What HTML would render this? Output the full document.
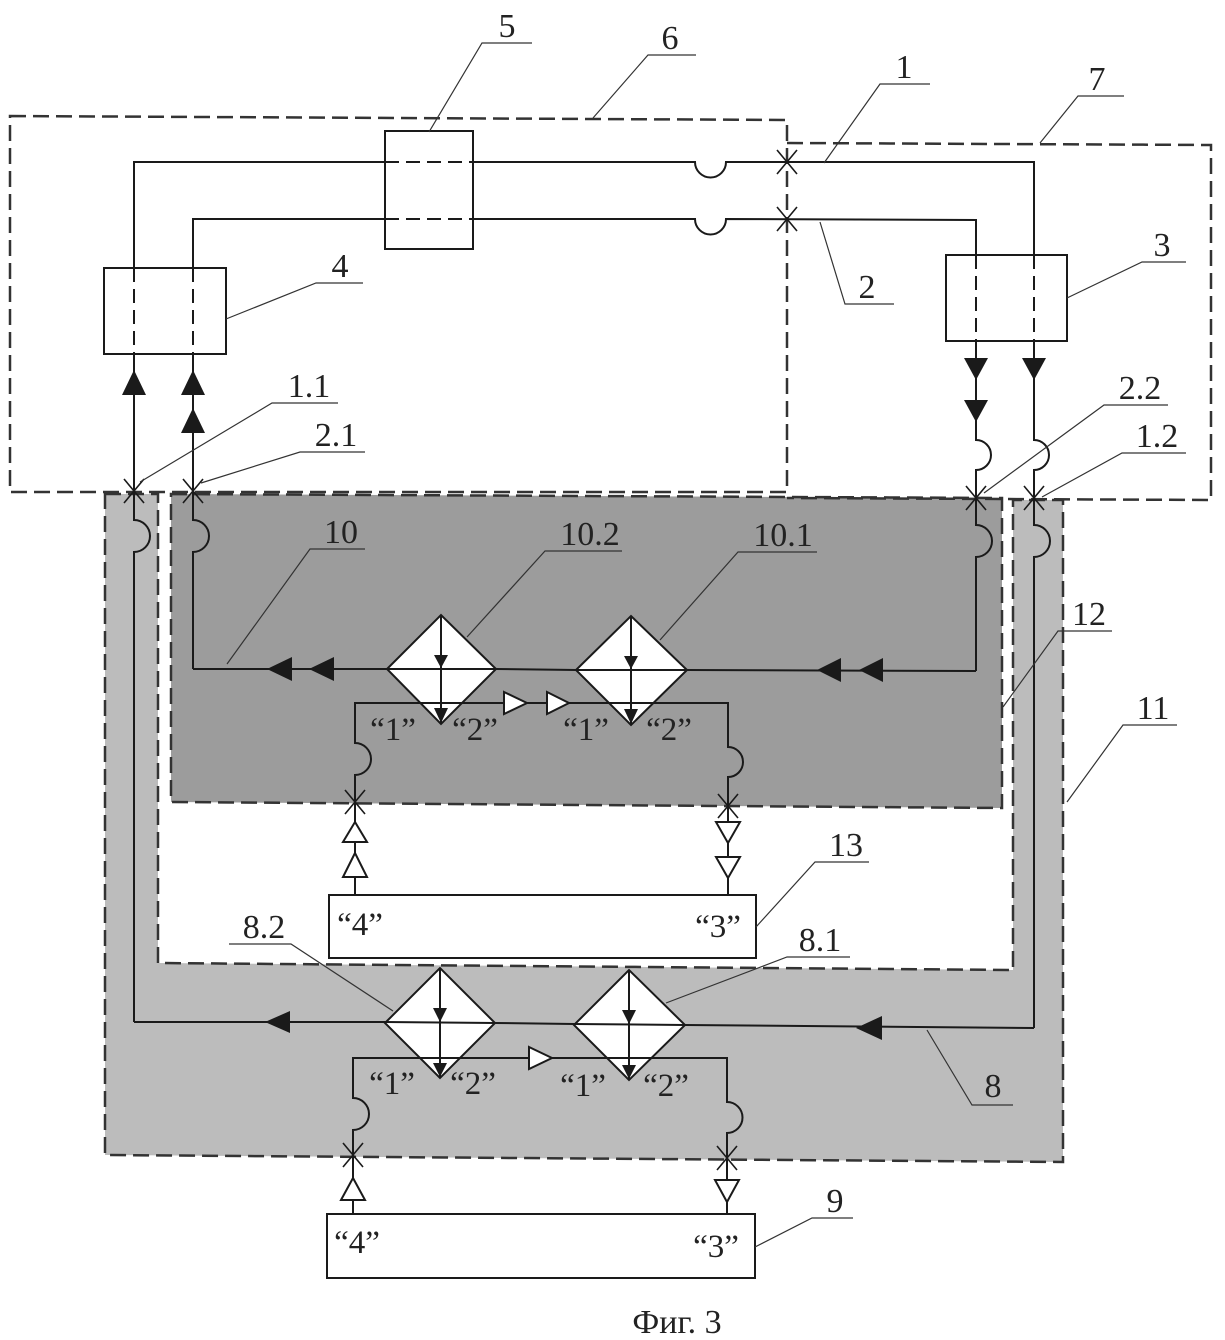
<!DOCTYPE html>
<html><head><meta charset="utf-8">
<style>html,body{margin:0;padding:0;background:#fff;}svg{display:block}
text{font-family:"Liberation Serif",serif;fill:#222;}
</style>
</head><body>
<svg width="1225" height="1340" viewBox="0 0 1225 1340" xmlns="http://www.w3.org/2000/svg">
<rect x="0" y="0" width="1225" height="1340" fill="#fff"/>
<!-- zone fills -->
<path d="M105,494 L158,494 L158,963 L1013,970 L1013,500 L1063,500 L1063,1162 L105,1155 Z" fill="#bcbcbc"/>
<path d="M171,494 L1002,498 L1002,808 L171,802 Z" fill="#9c9c9c"/>
<!-- dashed borders -->
<g fill="none" stroke="#333" stroke-width="2.5" stroke-dasharray="16 7">
 <path d="M105,494 L158,494 L158,963 L1013,970 L1013,500 L1063,500 L1063,1162 L105,1155 Z"/>
 <path d="M171,494 L1002,498 L1002,808 L171,802 Z"/>
 <path d="M10,116 L787,120 L787,492 L10,492 Z"/>
 <path d="M787,143 L1211,145 L1211,500 L787,498"/>
</g>
<!-- diamonds -->
<g fill="#fff" stroke="#1a1a1a" stroke-width="2">
 <polygon points="387,669 441,615 496,669 441,724"/>
 <polygon points="576,670 631,616 687,670 631,725"/>
 <polygon points="385,1023 440,968 495,1023 440,1078"/>
 <polygon points="574,1025 629,970 685,1025 629,1080"/>
</g>
<!-- connection lines -->
<g fill="none" stroke="#1a1a1a" stroke-width="2">
 <path d="M134,1022 L134,552 A16,16 0 0 0 134,520 L134,162 L695,162 A15.5,15.5 0 0 0 726,162 L1034,162 L1034,440 A15,15 0 0 1 1034,470 L1034,525 A16,16 0 0 1 1034,557 L1034,1028"/>
 <path d="M134,1022 L385,1022 L495,1023 L574,1024 L685,1025 L1034,1028"/>
 <path d="M193,669 L193,552 A16,16 0 0 0 193,520 L193,219 L695,219 A15.5,15.5 0 0 0 726,219 L976,220 L976,440 A15,15 0 0 1 976,470 L976,525 A16,16 0 0 1 976,557 L976,671"/>
 <path d="M193,669 L387,669 L496,669 L576,670 L687,670 L976,671"/>
 <path d="M355,895 L355,775 A16,16 0 0 0 355,743 L355,703 L728,703 L728,747 A15,15 0 0 1 728,777 L728,897"/>
 <path d="M353,1213 L353,1130 A16,16 0 0 0 353,1098 L353,1058 L727,1058 L727,1102 A15.5,15.5 0 0 1 727,1133 L727,1217"/>
 <path d="M441,615 L441,724 M631,616 L631,725 M440,968 L440,1078 M629,970 L629,1080"/>
</g>
<!-- diamond inner arrows -->
<g fill="#1a1a1a">
 <polygon points="434,655 448,655 441,668"/>
 <polygon points="434,708 448,708 441,723"/>
 <polygon points="624,656 638,656 631,669"/>
 <polygon points="624,709 638,709 631,724"/>
 <polygon points="433,1008 447,1008 440,1022"/>
 <polygon points="433,1063 447,1063 440,1077"/>
 <polygon points="622,1010 636,1010 629,1024"/>
 <polygon points="622,1065 636,1065 629,1079"/>
</g>
<!-- boxes -->
<g fill="#fff" stroke="#1a1a1a" stroke-width="2">
 <rect x="104" y="268" width="122" height="86"/>
 <rect x="385" y="131" width="88" height="118"/>
 <rect x="946" y="255" width="121" height="86"/>
 <rect x="329" y="895" width="427" height="63"/>
 <rect x="327" y="1214" width="428" height="64"/>
</g>
<g fill="none" stroke="#1a1a1a" stroke-width="2" stroke-dasharray="14 7">
 <path d="M134,268 L134,354 M193,268 L193,354"/>
 <path d="M385,162 L473,162 M385,219 L473,219"/>
 <path d="M976,255 L976,341 M1034,255 L1034,341"/>
</g>
<!-- filled arrows -->
<g fill="#1a1a1a">
 <polygon points="134,370 122,395 146,395"/>
 <polygon points="193,370 181,395 205,395"/>
 <polygon points="193,408 181,433 205,433"/>
 <polygon points="976,380 964,358 988,358"/>
 <polygon points="976,422 964,400 988,400"/>
 <polygon points="1034,380 1022,358 1046,358"/>
 <polygon points="267,669 292,657 292,681"/>
 <polygon points="309,669 334,657 334,681"/>
 <polygon points="817,670 841,658 841,682"/>
 <polygon points="859,670 883,658 883,682"/>
 <polygon points="265,1022 290,1011 290,1033"/>
 <polygon points="856,1028 882,1016 882,1040"/>
</g>
<!-- hollow arrows -->
<g fill="#fff" stroke="#1a1a1a" stroke-width="2">
 <polygon points="504,692 527,703 504,714"/>
 <polygon points="547,692 569,703 547,714"/>
 <polygon points="355,822 343,842 367,842"/>
 <polygon points="355,853 343,877 367,877"/>
 <polygon points="728,843 716,822 740,822"/>
 <polygon points="728,878 716,857 740,857"/>
 <polygon points="529,1047 552,1058 529,1069"/>
 <polygon points="353,1178 341,1200 365,1200"/>
 <polygon points="727,1202 715,1180 739,1180"/>
</g>
<!-- X marks -->
<g fill="none" stroke="#1a1a1a" stroke-width="1.6">
 <path d="M124,479 L144,503 M144,479 L124,503"/>
 <path d="M183,479 L203,503 M203,479 L183,503"/>
 <path d="M966,486 L986,510 M986,486 L966,510"/>
 <path d="M1024,486 L1044,510 M1044,486 L1024,510"/>
 <path d="M777,150 L797,174 M797,150 L777,174"/>
 <path d="M777,207 L797,231 M797,207 L777,231"/>
 <path d="M345,790 L365,814 M365,790 L345,814"/>
 <path d="M718,794 L738,818 M738,794 L718,818"/>
 <path d="M343,1143 L363,1167 M363,1143 L343,1167"/>
 <path d="M717,1146 L737,1170 M737,1146 L717,1170"/>
</g>
<!-- leader lines -->
<g fill="none" stroke="#333" stroke-width="1.2">
 <polyline points="429,132 482,43 532,43"/>
 <polyline points="593,118 648,55 696,55"/>
 <polyline points="824,163 880,84 930,84"/>
 <polyline points="1040,143 1078,96 1124,96"/>
 <polyline points="820,222 845,304 894,304"/>
 <polyline points="1067,298 1142,262 1186,262"/>
 <polyline points="226,319 316,283 363,283"/>
 <polyline points="140,482 272,403 338,403"/>
 <polyline points="201,483 300,452 365,452"/>
 <polyline points="984,493 1104,405 1168,405"/>
 <polyline points="1042,497 1122,453 1186,453"/>
 <polyline points="227,664 310,549 365,549"/>
 <polyline points="467,637 545,551 622,551"/>
 <polyline points="660,640 738,552 817,552"/>
 <polyline points="1003,707 1058,631 1112,631"/>
 <polyline points="1067,802 1123,725 1177,725"/>
 <polyline points="756,927 815,862 869,862"/>
 <polyline points="393,1011 291,944 229,944"/>
 <polyline points="666,1003 787,957 850,957"/>
 <polyline points="927,1030 972,1105 1013,1105"/>
 <polyline points="755,1247 812,1218 853,1218"/>
</g>
<!-- labels -->
<g font-size="34" text-anchor="middle">
 <text x="507" y="37">5</text>
 <text x="670" y="49">6</text>
 <text x="904" y="78">1</text>
 <text x="1097" y="90">7</text>
 <text x="867" y="298">2</text>
 <text x="1162" y="256">3</text>
 <text x="340" y="277">4</text>
 <text x="309" y="397">1.1</text>
 <text x="336" y="446">2.1</text>
 <text x="1140" y="399">2.2</text>
 <text x="1157" y="447">1.2</text>
 <text x="341" y="543">10</text>
 <text x="590" y="545">10.2</text>
 <text x="783" y="546">10.1</text>
 <text x="1089" y="625">12</text>
 <text x="1153" y="719">11</text>
 <text x="846" y="856">13</text>
 <text x="264" y="938">8.2</text>
 <text x="820" y="951">8.1</text>
 <text x="993" y="1097">8</text>
 <text x="835" y="1212">9</text>
</g>
<g font-size="33" text-anchor="middle">
 <text x="393" y="740">“1”</text>
 <text x="475" y="740">“2”</text>
 <text x="586" y="740">“1”</text>
 <text x="669" y="740">“2”</text>
 <text x="392" y="1094">“1”</text>
 <text x="473" y="1094">“2”</text>
 <text x="583" y="1096">“1”</text>
 <text x="666" y="1096">“2”</text>
 <text x="360" y="935">“4”</text>
 <text x="718" y="937">“3”</text>
 <text x="357" y="1253">“4”</text>
 <text x="716" y="1257">“3”</text>
</g>
<text x="677" y="1333" font-size="34" text-anchor="middle">Фиг. 3</text>
</svg>
</body></html>
